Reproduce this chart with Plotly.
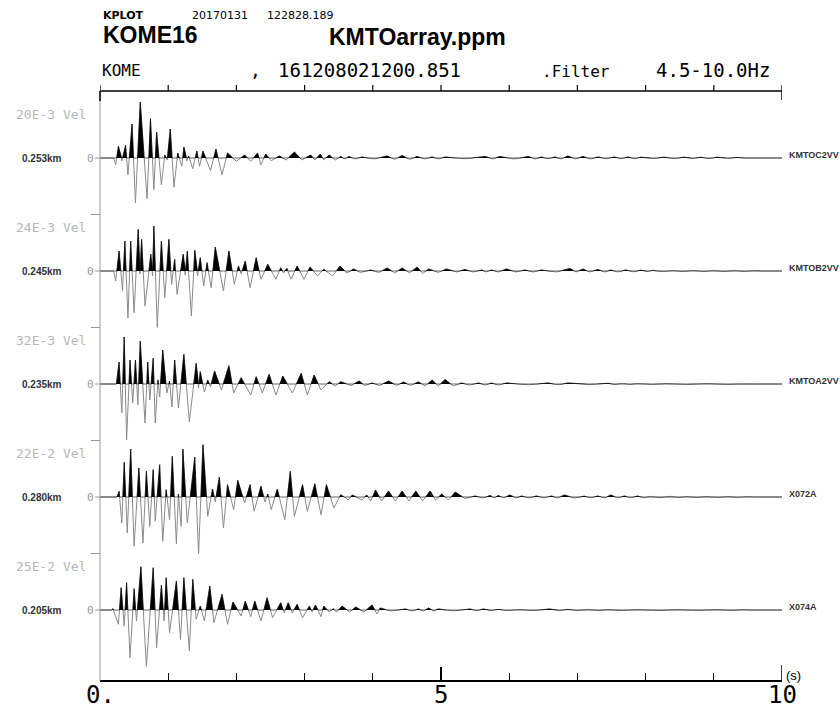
import plotly.graph_objects as go

# ---------------- data ----------------
stations = ["KMTOC2VV", "KMTOB2VV", "KMTOA2VV", "X072A", "X074A"]
distances = ["0.253km", "0.245km", "0.235km", "0.280km", "0.205km"]
scales = ["20E-3 Vel", "24E-3 Vel", "32E-3 Vel", "22E-2 Vel", "25E-2 Vel"]
x_tickvals = [0, 5, 10]
x_ticktext = ["0.", "5", "10"]

# waveform extrema: (time [s], relative amplitude; +-56.5 = half trace spacing)
wave1 = [(0.20, 0), (0.23, -6.7), (0.27, 11.7), (0.32, -3), (0.375, 12.7), (0.41, -16.7), (0.47, 34), (0.52, -45),
         (0.59, 56), (0.69, -40.7), (0.74, 39.3), (0.79, -31.7), (0.83, 26), (0.90, -26.7), (0.95, 3), (0.985, -2),
         (1.03, 29), (1.085, -29.3), (1.14, 5), (1.20, -8.3), (1.23, 11), (1.27, -3), (1.30, 2), (1.36, -10.7),
         (1.42, 7), (1.46, -8.3), (1.51, 7), (1.62, -12.7), (1.70, 9), (1.79, -16.7), (1.87, 5), (2.00, -3.3),
         (2.12, 3), (2.21, -3.3), (2.31, 5), (2.36, -6.7), (2.43, 4), (2.51, -2.7), (2.63, 2), (2.73, -2),
         (2.85, 6), (2.96, -2), (3.09, 3), (3.15, -2), (3.23, 4), (3.28, -2), (3.36, 3), (3.45, -2), (3.53, 1.5),
         (3.59, -1), (3.65, 1.5), (3.74, -1), (3.84, 1), (4.02, -1), (4.21, 2), (4.32, -1.5), (4.43, 2.5),
         (4.54, -1.5), (4.65, 1.5), (4.76, -1), (4.87, 1), (4.96, -1), (5.06, 1), (5.35, -0.8), (5.65, 1.5),
         (5.76, -1), (5.86, 1.5), (6.07, -1), (6.28, 1.5), (6.38, -1), (6.47, 1), (6.57, -0.8), (6.67, 1),
         (6.76, -1), (6.86, 2), (6.97, -1), (7.08, 1.5), (7.19, -1), (7.30, 1), (7.42, -0.8), (7.54, 1),
         (7.64, -0.8), (7.74, 1), (7.84, -0.8), (7.93, 0.8), (8.10, -0.6), (8.27, 0.8), (8.42, -0.6), (8.56, 0.8),
         (8.68, -0.6), (8.81, 0.8), (8.93, -0.6), (9.05, 0.8), (9.20, -0.5), (9.34, 0.6), (9.45, 0)]

wave2 = [(0.20, 0), (0.23, -10), (0.28, 20), (0.33, -20), (0.365, 30), (0.41, -47), (0.45, 30), (0.50, -41.7),
         (0.56, 41.7), (0.585, -3), (0.61, 31.7), (0.66, -35), (0.745, 16.7), (0.77, -5), (0.79, 45), (0.84, -56.7),
         (0.90, 30), (0.95, -26.7), (1.01, 31.7), (1.05, -13.3), (1.095, 11.7), (1.13, -23.3), (1.22, 16.7),
         (1.25, -4), (1.28, 20), (1.34, -45), (1.39, 20.7), (1.43, -5), (1.47, 13.3), (1.52, -15), (1.57, 8.3),
         (1.63, -16.7), (1.69, 24), (1.81, -20), (1.89, 20), (1.97, -13.3), (2.03, 5), (2.07, -3), (2.13, 10),
         (2.20, -16.7), (2.29, 13.3), (2.36, -8.3), (2.46, 6.7), (2.58, -8.3), (2.65, 3.3), (2.69, -2), (2.74, 2.7),
         (2.80, -8.3), (2.89, 5), (2.99, -8.3), (3.08, 4), (3.19, -5), (3.28, 1.7), (3.41, -5), (3.52, 5),
         (3.62, -2), (3.72, 2), (3.82, -1.5), (3.97, 1), (4.09, -1.5), (4.21, 3), (4.32, -2), (4.43, 3), (4.54, -2),
         (4.65, 4), (4.73, -2.5), (4.82, 2), (4.96, -1.5), (5.08, 2), (5.23, -1), (5.35, 1.5), (5.47, -1),
         (5.60, 1), (5.66, -1), (5.74, 1), (5.84, -1), (5.96, 2), (6.10, -1), (6.23, 1), (6.35, -1), (6.47, 1),
         (6.69, -1), (6.89, 2.5), (6.98, -1), (7.08, 2), (7.18, -1), (7.30, 1.5), (7.40, -1), (7.49, 1),
         (7.59, -1), (7.71, 1), (7.82, -0.8), (7.93, 0.8), (8.02, -0.6), (8.10, 0.6), (8.25, -0.6), (8.40, 0.6),
         (8.55, -0.6), (8.70, 0.6), (8.85, -0.6), (9.00, 0.6), (9.15, -0.6), (9.30, 0.6), (9.45, -0.5),
         (9.60, 0.5), (9.70, 0)]

wave3 = [(0.24, 0), (0.28, 22), (0.32, -29), (0.355, 47), (0.39, -56), (0.44, 24), (0.48, -19), (0.52, 24),
         (0.555, -21), (0.59, 43), (0.66, -39), (0.70, 22), (0.73, -16), (0.78, 25.7), (0.81, -39), (0.85, 4),
         (0.875, -13), (0.92, 34), (0.98, -9), (1.02, 3), (1.055, -23), (1.095, 24), (1.15, -24), (1.23, 29.7),
         (1.31, -38), (1.41, 20.7), (1.445, -4), (1.47, 12.3), (1.53, -8), (1.58, 4), (1.62, -3), (1.68, 13),
         (1.78, -6), (1.89, 18.3), (1.96, -9), (2.07, 6.3), (2.21, -11), (2.29, 7.3), (2.38, -9), (2.48, 9.7),
         (2.58, -11), (2.68, 8), (2.82, -9), (2.95, 10.7), (3.04, -11), (3.14, 9), (3.24, -6), (3.36, 2.3),
         (3.45, -2), (3.53, 2.3), (3.68, -1.5), (3.80, 3), (3.88, -1.5), (3.99, 1), (4.10, -1.5), (4.23, 3),
         (4.35, -1.5), (4.45, 2), (4.55, -1.5), (4.67, 2), (4.77, -2), (4.87, 4), (4.96, -2), (5.06, 4.5),
         (5.18, -2), (5.30, 1), (5.42, -1), (5.55, 1), (5.65, -1), (5.74, 1), (5.84, -1), (5.96, 1), (6.28, -0.8),
         (6.57, 1), (6.72, -0.8), (6.86, 1), (7.15, -0.6), (7.45, 0.7), (7.55, -0.5), (7.66, 0.7), (7.77, -0.5),
         (7.88, 0.6), (8.10, -0.5), (8.30, 0.5), (8.60, -0.5), (8.90, 0.5), (9.20, -0.5), (9.50, 0.4), (9.60, 0)]

wave4 = [(0.25, 0), (0.28, 5.7), (0.32, -26), (0.355, 34.7), (0.40, -36), (0.45, 48), (0.50, -49.3), (0.57, 29),
         (0.63, -46), (0.68, 25.7), (0.73, -29.3), (0.78, 27.3), (0.81, -24), (0.875, 32.3), (0.92, -44.3),
         (0.97, 7.3), (1.02, -22.7), (1.06, 40.7), (1.12, -46.7), (1.15, 3), (1.19, -29.3), (1.215, 48),
         (1.28, -26), (1.39, 40), (1.445, -57.7), (1.51, 52.3), (1.58, -19.3), (1.65, 8), (1.69, -5), (1.75, 20),
         (1.81, -31), (1.87, 12.3), (1.96, -12.7), (2.02, 16.7), (2.12, -6), (2.20, 12.3), (2.26, -14.3),
         (2.36, 10.7), (2.42, -5), (2.46, 3), (2.51, -12.7), (2.60, 8), (2.71, -22.7), (2.79, 25.7), (2.85, -19.3),
         (2.97, 12.3), (3.04, -14.3), (3.15, 13.3), (3.24, -17.7), (3.32, 12.3), (3.43, -11), (3.53, 2.3),
         (3.64, -3), (3.70, 2), (3.84, -3), (3.91, 2), (3.97, -4), (4.04, 7), (4.13, -4), (4.23, 6), (4.33, -4),
         (4.43, 6), (4.53, -4), (4.63, 6), (4.73, -4), (4.84, 6), (4.92, -3), (5.01, 3), (5.11, -3), (5.21, 5),
         (5.35, -1.5), (5.50, 1), (5.62, -1), (5.72, 1.5), (5.78, -1), (5.84, 1.5), (5.92, -1), (6.01, 2),
         (6.10, -1), (6.18, 1), (6.29, -1), (6.40, 1), (6.51, -1), (6.62, 1), (6.71, -1), (6.81, 2), (6.95, -1),
         (7.10, 0.8), (7.20, -0.8), (7.30, 1), (7.40, -1), (7.49, 2), (7.59, -1), (7.69, 1), (7.78, -0.8),
         (7.88, 1), (7.98, -0.8), (8.07, 0.7), (8.20, -0.6), (8.36, 0.7), (8.48, -0.5), (8.60, 0.5), (8.75, -0.5),
         (8.90, 0.5), (9.05, -0.5), (9.20, 0.5), (9.35, -0.4), (9.50, 0.4), (9.60, 0)]

wave5 = [(0.17, 0), (0.19, 1.3), (0.27, -14.3), (0.31, 22.3), (0.355, -16), (0.39, 27.3), (0.44, -47.7),
         (0.50, 21.3), (0.535, -11), (0.60, 43.3), (0.68, -56.7), (0.78, 42.3), (0.83, -37.7), (0.90, 24.7),
         (0.94, -11), (0.97, 32.3), (1.02, -22.7), (1.12, 29), (1.18, -29.3), (1.23, 32.3), (1.31, -41),
         (1.36, 30.7), (1.41, -9.3), (1.47, 4), (1.53, -11), (1.61, 24), (1.67, -12.7), (1.79, 15.7),
         (1.87, -14.3), (1.95, 8), (2.07, -6), (2.13, 9), (2.21, -6.7), (2.27, 9), (2.36, -11), (2.45, 12.3),
         (2.53, -7.7), (2.65, 7.3), (2.70, -3), (2.76, 7.3), (2.82, -3), (2.89, 5.7), (2.97, -7.7), (3.07, 4),
         (3.11, -2), (3.16, 5), (3.24, -6.7), (3.28, 4), (3.36, -2), (3.42, 1.3), (3.47, -2), (3.55, 4),
         (3.66, -2), (3.75, 3), (3.87, -2), (3.99, 5), (4.06, -4), (4.11, 2), (4.26, -1), (4.48, 1), (4.57, -1),
         (4.67, 1), (4.74, -1), (4.82, 2), (4.89, -1), (4.96, 1), (5.18, -0.8), (5.43, 1), (5.52, -0.8),
         (5.62, 1), (5.72, -0.6), (5.84, 0.6), (6.00, -0.6), (6.13, 0.6), (6.35, -0.6), (6.59, 1), (6.72, -0.6),
         (6.86, 0.6), (7.00, -0.5), (7.15, 0.6), (7.30, -0.5), (7.45, 0.5), (7.65, -0.5), (7.88, 0.5),
         (8.20, -0.5), (8.47, 0.5), (8.75, -0.4), (9.05, 0.5), (9.25, -0.4), (9.42, 0.4), (9.55, 0)]

waves = [wave1, wave2, wave3, wave4, wave5]
T_START, T_END = 0.0, 10.0

# ---------------- layout geometry (pixels in the 840x709 page) ----------------
W, H = 840, 709
PL, PR, PT, PB = 100, 782, 91, 681
HALF = 56.5
BASE0, STEP = 158, 113


def fx(px):
    return (px - PL) / (PR - PL)


def fy(py):
    return (PB - py) / (PB - PT)


def build_path(points):
    xs, ys = [T_START], [0.0]
    pt, pa = T_START, 0.0
    for t, a in points:
        if pa * a < 0:
            xs.append(pt + (t - pt) * pa / (pa - a))
            ys.append(0.0)
        elif pa * a > 0:
            xs.append((pt + t) / 2)
            ys.append(0.0)
        xs.append(t)
        ys.append(a)
        pt, pa = t, a
    xs.append(T_END)
    ys.append(0.0)
    return xs, ys


fig = go.Figure()
layout_axes = {}
for i, pts in enumerate(waves):
    yname = "y" if i == 0 else f"y{i + 1}"
    xs, ys = build_path(pts)
    fig.add_trace(go.Scatter(x=xs, y=ys, xaxis="x", yaxis=yname, mode="lines",
                             line=dict(color="#8a8a8a", width=1), hoverinfo="skip",
                             showlegend=False))
    fig.add_trace(go.Scatter(x=xs, y=[max(v, 0.0) for v in ys], xaxis="x", yaxis=yname,
                             mode="lines", fill="tozeroy", fillcolor="black",
                             line=dict(color="black", width=0.6), hoverinfo="skip",
                             showlegend=False))
    base = BASE0 + STEP * i
    key = "yaxis" if i == 0 else f"yaxis{i + 1}"
    layout_axes[key] = dict(domain=[fy(base + HALF), fy(base - HALF)], range=[-HALF, HALF],
                            visible=False, fixedrange=True, anchor="x", automargin=False)

mono = "DejaVu Sans Mono"
sans = "Liberation Sans"
dsans = "DejaVu Sans"

fig.update_layout(
    width=W, height=H,
    margin=dict(l=PL, r=W - PR, t=PT, b=H - PB, autoexpand=False),
    paper_bgcolor="white", plot_bgcolor="white",
    showlegend=False,
    xaxis=dict(range=[T_START, T_END], anchor="free", position=0, showline=True,
               linecolor="black", linewidth=1.5, showgrid=False, zeroline=False,
               automargin=False,
               ticks="inside", ticklen=13, tickwidth=1.5, tickcolor="black",
               tickvals=x_tickvals, showticklabels=False,
               minor=dict(tickvals=list(range(11)), ticks="inside", ticklen=7,
                          tickwidth=1.2, tickcolor="black"),
               fixedrange=True),
    **layout_axes,
)

shapes = []
# top frame line with ticks
shapes.append(dict(type="line", xref="paper", yref="paper", x0=0, x1=1, y0=1, y1=1,
                   line=dict(color="black", width=1.5)))
for s in range(11):
    shapes.append(dict(type="line", xref="x", yref="paper", x0=s, x1=s,
                       y0=fy(PT), y1=fy(PT - 6), line=dict(color="black", width=1.2)))
shapes.append(dict(type="line", xref="x", yref="paper", x0=10, x1=10,
                   y0=fy(PT), y1=fy(PT + 9), line=dict(color="black", width=1.5)))
# left axis
shapes.append(dict(type="line", xref="paper", yref="paper", x0=0, x1=0, y0=0, y1=1,
                   line=dict(color="#9a9a9a", width=1)))
shapes.append(dict(type="line", xref="paper", yref="paper", x0=0, x1=0, y0=fy(PT + 10), y1=1,
                   line=dict(color="black", width=1.5)))
for i in range(1, 5):
    yb = BASE0 + STEP * i - HALF
    shapes.append(dict(type="line", xref="paper", yref="paper", x0=fx(PL - 9), x1=0,
                       y0=fy(yb), y1=fy(yb), line=dict(color="#9a9a9a", width=1)))
# right end tick of bottom axis
shapes.append(dict(type="line", xref="x", yref="paper", x0=10, x1=10, y0=0, y1=fy(PB - 16),
                   line=dict(color="black", width=1.5)))

annotations = []


def ann(text, px, py, size, family=mono, color="black", xanchor="left", bold=False):
    if bold:
        text = f"<b>{text}</b>"
    annotations.append(dict(text=text, x=fx(px), y=fy(py), xref="paper", yref="paper",
                            xanchor=xanchor, yanchor="middle", showarrow=False,
                            font=dict(family=family, size=size, color=color)))


# bottom axis tick labels (placed at the data positions of the ticks)
for v, txt in zip(x_tickvals, x_ticktext):
    annotations.append(dict(text=txt, x=v, y=fy(695), xref="x", yref="paper",
                            xanchor="center", yanchor="middle", showarrow=False,
                            font=dict(family=mono, size=24, color="black")))

# header
ann("KPLOT", 101, 15, 11, family=dsans, bold=True)
ann("20170131", 190, 16, 11, family=dsans)
ann("122828.189", 265, 16, 11, family=dsans)
ann("KOME16", 101, 35, 23, family=sans, bold=True)
ann("KMTOarray.ppm", 327, 37, 23, family=sans, bold=True)
ann("KOME", 100, 70, 16)
ann(",", 248, 70, 18)
ann("161208021200.851", 463, 70, 19, xanchor="right")
ann(".Filter", 540, 71, 16)
ann("4.5-10.0Hz", 772, 70, 19, xanchor="right")
ann("(s)", 784, 675, 13, family=sans)

for i in range(5):
    base = BASE0 + STEP * i
    ann(scales[i], 14, base - 44, 13, color="#b8b8b8")
    ann(distances[i], 20, base, 10, family=sans, color="#333333", bold=True)
    ann("0", 96, base, 11, color="#9a9a9a", xanchor="right")
    shapes.append(dict(type="line", xref="paper", yref="paper", x0=fx(PL - 5), x1=0,
                       y0=fy(base), y1=fy(base), line=dict(color="#9a9a9a", width=1)))
    ann(stations[i], 787, base - 3, 9, family=sans, bold=True, color="#333333")

fig.update_layout(shapes=shapes, annotations=annotations)
fig.write_html("out.html")
